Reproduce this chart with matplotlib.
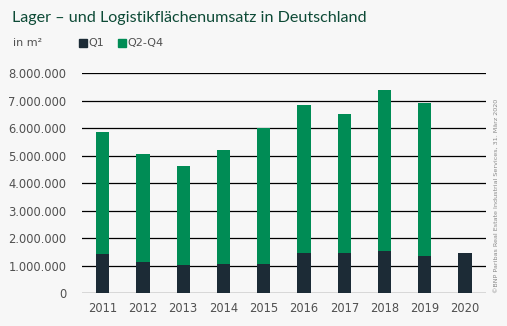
import matplotlib.pyplot as plt
from matplotlib.ticker import FuncFormatter
from matplotlib.patches import Rectangle

years = ["2011", "2012", "2013", "2014", "2015", "2016", "2017", "2018", "2019", "2020"]
q1 = [1430000, 1140000, 1030000, 1070000, 1070000, 1470000, 1480000, 1540000, 1370000, 1480000]
total = [5850000, 5080000, 4630000, 5200000, 6000000, 6850000, 6510000, 7380000, 6910000, 1480000]
q2_q4 = [t - a for t, a in zip(total, q1)]

BG = "#f7f7f7"
C_Q1 = "#1c2b36"
C_REST = "#008c55"
TXT = "#505050"

fig = plt.figure(figsize=(5.07, 3.26), dpi=100, facecolor=BG)
ax = fig.add_axes([81.7 / 507, 1 - 293.3 / 326, (486 - 81.7) / 507, 220 / 326], facecolor=BG)

x = list(range(len(years)))
ax.bar(x, q1, width=0.33, color=C_Q1, zorder=3)
ax.bar(x, q2_q4, bottom=q1, width=0.33, color=C_REST, zorder=3)

ax.set_xlim(-0.52, 9.52)
ax.set_ylim(0, 8000000)
ax.set_yticks(range(0, 8000001, 1000000))
ax.yaxis.set_major_formatter(FuncFormatter(lambda v, _: f"{int(v):,}".replace(",", ".")))
ax.set_xticks(x)
ax.set_xticklabels(years)
ax.grid(axis="y", color="black", lw=0.9, zorder=1)
for s in ax.spines.values():
    s.set_visible(False)
ax.tick_params(length=0, colors=TXT, labelsize=8.3)
ax.tick_params(axis="y", pad=11)
ax.tick_params(axis="x", pad=6)

fig.text(12 / 507, 1 - 18 / 326, "Lager – und Logistikflächenumsatz in Deutschland",
         fontsize=11.6, color="#0d4a36", va="center", ha="left", family="Lato")
fig.text(13 / 507, 1 - 43 / 326, "in m²", fontsize=8, color=TXT, va="center")

# legend drawn by hand in figure coords
for xs, col, lab in [(79, C_Q1, "Q1"), (118, C_REST, "Q2-Q4")]:
    fig.patches.append(Rectangle((xs / 507, 1 - 46.5 / 326), 7.5 / 507, 7.5 / 326,
                                 transform=fig.transFigure, color=col))
    fig.text((xs + 9) / 507, 1 - 43 / 326, lab, fontsize=8, color=TXT, va="center")

fig.text(496 / 507, 1 - 196 / 326,
         "©BNP Paribas Real Estate Industrial Services, 31. März 2020",
         rotation=90, fontsize=4.6, color="#8a8a8a", ha="center", va="center")

fig.savefig("out.png", dpi=100, facecolor=BG)
